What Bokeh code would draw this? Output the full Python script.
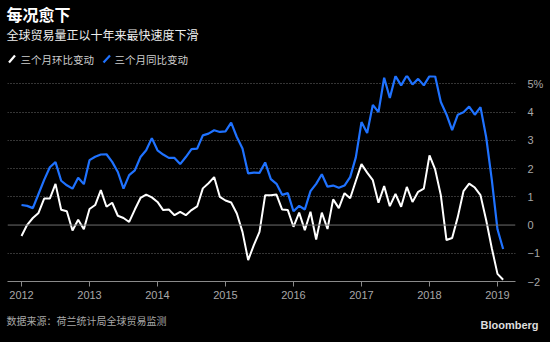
import numpy as np
from bokeh.plotting import figure
from bokeh.layouts import column
from bokeh.models import FixedTicker, Span, Range1d
from bokeh.core.properties import value
from bokeh.embed import file_html
from bokeh.resources import INLINE

# ---- data (monthly, Jan 2012 .. Feb 2019) ----
mom_3m = [-0.39, 0.01, 0.25, 0.43, 0.94, 0.94, 1.46, 0.54, 0.49, -0.19, 0.19, -0.15,
          0.57, 0.71, 1.24, 0.65, 0.79, 0.33, 0.25, 0.11, 0.55, 0.96, 1.08, 0.98,
          0.82, 0.53, 0.55, 0.35, 0.47, 0.35, 0.53, 0.66, 1.30, 1.48, 1.70, 1.00,
          0.87, 0.80, 0.41, -0.24, -1.24, -0.71, -0.24, 1.06, 1.06, 1.08, 0.55, 0.53,
          -0.06, 0.44, -0.18, 0.47, -0.51, 0.44, -0.14, 0.91, 0.60, 1.13, 0.95, 1.56,
          2.16, 1.86, 1.59, 0.79, 1.38, 0.67, 1.10, 0.65, 1.35, 0.82, 1.18, 1.29,
          2.47, 1.97, 1.06, -0.53, -0.46, 0.29, 1.20, 1.47, 1.33, 1.06, 0.18, -0.82,
          -1.73, -1.94]
yoy_3m = [0.71, 0.68, 0.60, 1.10, 1.60, 2.05, 2.23, 1.57, 1.41, 1.29, 1.68, 1.45,
          2.30, 2.42, 2.50, 2.51, 2.24, 1.88, 1.29, 1.77, 1.94, 2.41, 2.65, 3.08,
          2.65, 2.50, 2.38, 2.38, 2.16, 2.41, 2.69, 2.71, 3.18, 3.24, 3.36, 3.30,
          3.32, 3.63, 3.12, 2.71, 1.83, 1.86, 1.85, 2.22, 1.63, 1.46, 1.07, 1.13,
          0.49, 0.68, 0.55, 1.20, 1.46, 1.80, 1.36, 1.40, 1.32, 1.40, 1.70, 2.40,
          3.65, 3.26, 4.26, 4.00, 5.22, 4.50, 5.28, 4.95, 5.30, 4.98, 5.18, 4.95,
          5.28, 5.27, 4.36, 3.92, 3.36, 3.91, 4.00, 4.20, 3.91, 4.18, 3.12, 1.60,
          -0.15, -0.85]
start_year = 2012
year_ticks = [2012, 2013, 2014, 2015, 2016, 2017, 2018, 2019]
y_ticks = [-2, -1, 0, 1, 2, 3, 4, 5]
y_tick_labels = {5: "5%"}

title_text = "每况愈下"
subtitle_text = "全球贸易量正以十年来最快速度下滑"
legend_labels = ["三个月环比变动", "三个月同比变动"]
series_colors = ["#ffffff", "#1f72ff"]
source_text = "数据来源：荷兰统计局全球贸易监测"
brand_text = "Bloomberg"

x = start_year + np.arange(len(mom_3m)) / 12.0

CJK = "Noto Sans CJK SC"
LAT = "Liberation Sans"
BG = "#000000"
W = 550
TOP_H, MAIN_H, BOT_H = 70, 240, 32


def blank(h):
    f = figure(width=W, height=h, output_backend="svg", toolbar_location=None,
               x_range=Range1d(0, W), y_range=Range1d(h, 0),
               min_border=0, min_border_left=0, min_border_right=0,
               min_border_top=0, min_border_bottom=0, frame_align=False)
    f.axis.visible = False
    f.grid.visible = False
    f.background_fill_color = BG
    f.border_fill_color = BG
    f.outline_line_color = None
    return f


# ---- header ----
top = blank(TOP_H)
top.text(x=[6], y=[13.5], text=[title_text], text_color="#ffffff",
         text_font=value(CJK), text_font_size="16px", text_font_style="bold",
         text_baseline="middle")
top.text(x=[6], y=[34], text=[subtitle_text], text_color="#eeeeee",
         text_font=value(CJK), text_font_size="12px", text_baseline="middle")
top.segment(x0=[8.5, 103], y0=[62, 62], x1=[14.5, 109.5], y1=[55, 55],
            line_color=series_colors, line_width=2.2)
top.text(x=[20, 114], y=[58.5, 58.5], text=legend_labels, text_color="#cfcfcf",
         text_font=value(CJK), text_font_size="10.5px", text_baseline="middle")

# ---- main chart ----
FL, FR = 7, 515
x0, x1 = 2011.794, 2019.265
y0, y1 = -2.0, 5.3
frame_top, frame_bottom = 5, 211

p = figure(width=W, height=MAIN_H, output_backend="svg", toolbar_location=None,
           x_range=Range1d(x0, x1), y_range=Range1d(y0, y1),
           y_axis_location="right", frame_align=False,
           min_border_left=FL, min_border_right=W - FR,
           min_border_top=frame_top, min_border_bottom=MAIN_H - frame_bottom)
p.background_fill_color = BG
p.border_fill_color = BG
p.outline_line_color = None

p.xgrid.grid_line_color = None
p.ygrid.ticker = FixedTicker(ticks=[-1, 1, 2, 3, 4, 5])
p.ygrid.grid_line_color = "#6a6a6a"
p.ygrid.grid_line_dash = "1 2"
p.ygrid.grid_line_width = 1
p.add_layout(Span(location=0, dimension="width", line_color="#6e6e6e", line_width=1))

xa = p.xaxis[0]
xa.ticker = FixedTicker(ticks=year_ticks)
xa.axis_line_color = "#8a8a8a"
xa.axis_line_width = 1
xa.major_tick_line_color = "#8a8a8a"
xa.major_tick_out = 5
xa.major_tick_in = 0
xa.minor_tick_line_color = None
xa.major_label_text_color = "#a8a8a8"
xa.major_label_text_font = LAT
xa.major_label_text_font_size = "11px"
xa.major_label_standoff = 4

ya = p.yaxis[0]
ya.ticker = FixedTicker(ticks=y_ticks)
ya.major_label_overrides = y_tick_labels
ya.axis_line_color = None
ya.major_tick_line_color = None
ya.minor_tick_line_color = None
ya.major_label_text_color = "#a8a8a8"
ya.major_label_text_font = LAT
ya.major_label_text_font_size = "11px"
ya.major_label_standoff = 6

p.line(x, mom_3m, line_color=series_colors[0], line_width=2)
p.line(x, yoy_3m, line_color=series_colors[1], line_width=2.2)

# ---- footer ----
bot = blank(BOT_H)
bot.text(x=[6], y=[10], text=[source_text], text_color="#a8a8a8",
         text_font=value(CJK), text_font_size="10px", text_baseline="middle")
bot.text(x=[538], y=[14], text=[brand_text], text_color="#dddddd",
         text_font=value(LAT), text_font_size="11px", text_font_style="bold",
         text_baseline="middle", text_align="right")

layout = column(top, p, bot, spacing=0)
layout.styles = {"background-color": BG}
open("out.html", "w").write(file_html(layout, INLINE))
